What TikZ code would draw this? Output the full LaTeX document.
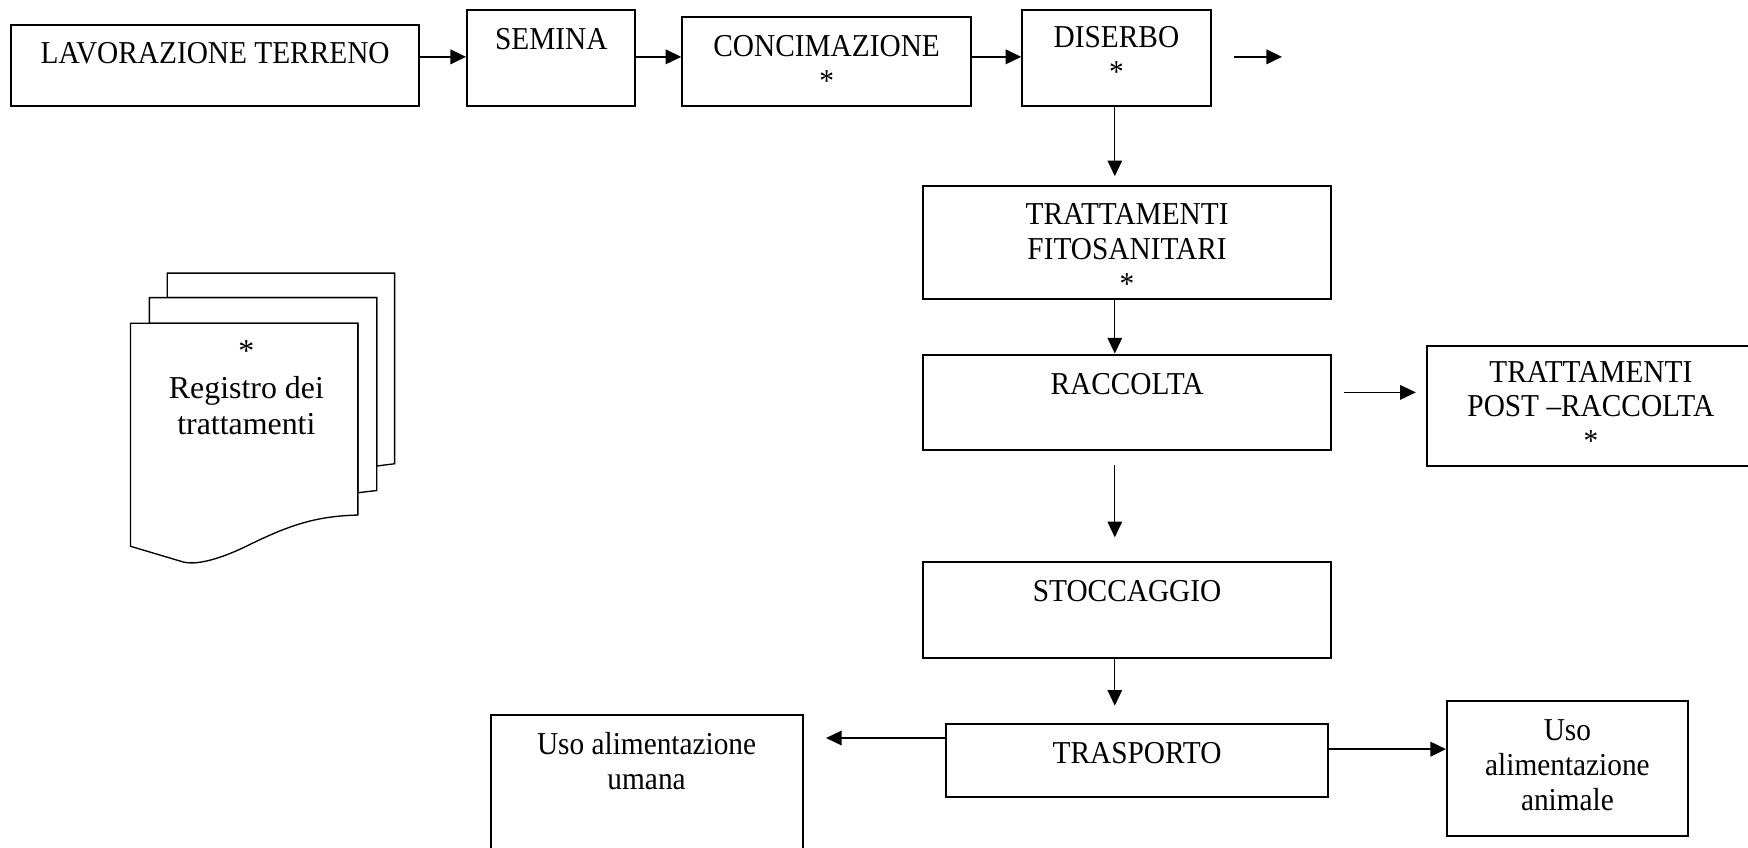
\documentclass[tikz,border=0pt]{standalone}
\usepackage{fontspec}
\setmainfont{Liberation Serif}
\newfontfamily\boxfont[FakeStretch=0.92]{Liberation Serif}
\usetikzlibrary{arrows.meta}
\tikzset{
  box/.style={draw, line width=0.9pt, fill=white, inner sep=0pt},
  txt/.style={anchor=north, inner sep=0pt, align=center, font=\boxfont\fontsize{14.3}{15.5}\selectfont},
  regtxt/.style={anchor=north, inner sep=0pt, align=center, font=\fontsize{14.3}{16.5}\selectfont},
  arr/.style={line width=0.6pt, -{Triangle[length=7pt,width=6.5pt]}},
  thickarr/.style={arr, line width=0.9pt},
  sheet/.style={draw, line width=0.6pt, fill=white, line join=miter}
}
\begin{document}
\begin{tikzpicture}[x=0.5pt,y=-0.5pt]
\clip (0,0) rectangle (1568,760);
\fill[white] (0,0) rectangle (1568,760);

% boxes
\node[box, minimum width=183pt, minimum height=36.5pt] (lav) at (193,58.5) {};
\node[txt] (lavt) at (193,37.5) {LAVORAZIONE TERRENO};
\node[box, minimum width=75.5pt, minimum height=43pt] (sem) at (494.5,52) {};
\node[txt] (semt) at (494.5,25.5) {SEMINA};
\node[box, minimum width=129.5pt, minimum height=40pt] (conc) at (741.5,55) {};
\node[txt] (conct) at (741.5,31.5) {CONCIMAZIONE\\*};
\node[box, minimum width=84.5pt, minimum height=43pt] (dis) at (1001.5,52) {};
\node[txt] (dist) at (1001.5,23.5) {DISERBO\\*};
\node[box, minimum width=183pt, minimum height=50.5pt] (fito) at (1011,217.5) {};
\node[txt] (fitot) at (1011,182.5) {TRATTAMENTI\\FITOSANITARI\\*};
\node[box, minimum width=183pt, minimum height=43pt] (racc) at (1011,361) {};
\node[txt] (racct) at (1011,334.5) {RACCOLTA};
\node[box, minimum width=150pt, minimum height=54pt] (post) at (1430,364) {};
\node[txt] (postt) at (1427,323.5) {TRATTAMENTI\\POST –RACCOLTA\\*};
\node[box, minimum width=183pt, minimum height=43pt] (stoc) at (1011,547) {};
\node[txt] (stoct) at (1011,520.5) {STOCCAGGIO};
\node[box, minimum width=171pt, minimum height=33pt] (tras) at (1020,682) {};
\node[txt] (trast) at (1020,665.5) {TRASPORTO};
\node[box, minimum width=140pt, minimum height=79.5pt] (umana) at (580,720.5) {};
\node[txt] (umanat) at (580,656.5) {Uso alimentazione\\umana};
\node[box, minimum width=108pt, minimum height=60.5pt] (anim) at (1406,689.5) {};
\node[txt] (animt) at (1406,645.5) {Uso\\alimentazione\\animale};

% document stack
\draw[sheet] (150,245) -- (354,245) -- (354,416) -- (338,418) -- (338,267) -- (150,267) -- cycle;
\draw[sheet] (134,267) -- (338,267) -- (338,440) -- (321,442) -- (321,290) -- (134,290) -- cycle;
\draw[sheet] (117,290) -- (321,290) -- (321,462)
  .. controls (285,463) and (262,470) .. (225,488)
  .. controls (195,503) and (175,507) .. (164,504)
  -- (117,490) -- cycle;
\node[regtxt] (reg) at (221,305) {*\\Registro dei\\trattamenti};

% connectors
\coordinate (r1) at (0,51);
\draw[thickarr] (lav.east |- r1) -- (sem.west |- r1);
\draw[thickarr] (sem.east |- r1) -- (conc.west |- r1);
\draw[thickarr] (conc.east |- r1) -- (dis.west |- r1);
\coordinate (f1) at (1107,51);
\coordinate (f2) at (1150,51);
\draw[thickarr] (f1) -- (f2);

\coordinate (v1) at (1000,158);
\draw[arr] (dis.south -| v1) -- (v1);
\draw[arr] (fito.south -| v1) -- (racc.north -| v1);
\coordinate (v2a) at (1000,417);
\coordinate (v2b) at (1000,482);
\draw[arr] (v2a) -- (v2b);
\coordinate (v3) at (1000,633);
\draw[arr] (stoc.south -| v3) -- (v3);

\coordinate (h1a) at (1206,352);
\coordinate (h1b) at (1270,352);
\draw[arr] (h1a) -- (h1b);

\coordinate (h2) at (741,662);
\draw[thickarr] (tras.west |- h2) -- (h2);
\coordinate (h3) at (0,672);
\draw[thickarr] (tras.east |- h3) -- (anim.west |- h3);
\end{tikzpicture}
\end{document}
